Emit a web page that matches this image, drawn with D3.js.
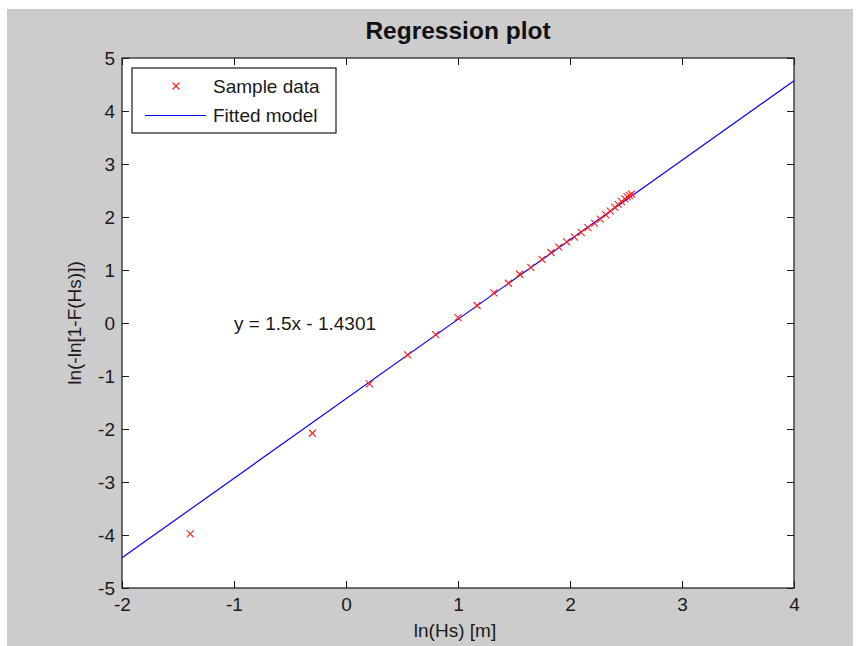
<!DOCTYPE html>
<html>
<head>
<meta charset="utf-8">
<script src="https://cdn.jsdelivr.net/npm/d3@7"></script>
<style>
  body { margin: 0; background: #fff; }
  svg { display: block; font-family: Arial, 'Liberation Sans', sans-serif; }
</style>
</head>
<body>
<div id="chart"></div>
<script>
// sample points: x = ln(Hs), y = ln(-ln[1-F(Hs)])
const sampleX = [-1.39, -0.30, 0.21, 0.55, 0.80, 1.00, 1.17, 1.32, 1.45, 1.55,
  1.65, 1.75, 1.83, 1.90, 1.97, 2.04, 2.10, 2.16, 2.22, 2.27,
  2.32, 2.36, 2.40, 2.43, 2.46, 2.49, 2.51, 2.53, 2.55];
const sampleY = [-3.98, -2.08, -1.15, -0.60, -0.22, 0.10, 0.33, 0.57, 0.75, 0.92,
  1.05, 1.20, 1.33, 1.43, 1.53, 1.62, 1.71, 1.80, 1.88, 1.96,
  2.04, 2.11, 2.18, 2.24, 2.29, 2.34, 2.38, 2.41, 2.43];

const slope = 1.5;
const intercept = -1.4301;

const xTicks = [-2, -1, 0, 1, 2, 3, 4];
const yTicks = [-5, -4, -3, -2, -1, 0, 1, 2, 3, 4, 5];

const size = { width: 860, height: 646 };
const margin = { top: 58, right: 66, bottom: 58, left: 122 };
const ink = '#1a1a1a';

const svg = d3
  .select('#chart')
  .append('svg')
  .attr('width', size.width)
  .attr('height', size.height);

// figure background
svg
  .append('rect')
  .attr('x', 7)
  .attr('y', 9)
  .attr('width', 846)
  .attr('height', size.height - 9)
  .attr('fill', '#cccccc');

const x = d3
  .scaleLinear()
  .domain([-2, 4])
  .range([margin.left, size.width - margin.right]);

const y = d3
  .scaleLinear()
  .domain([-5, 5])
  .range([size.height - margin.bottom, margin.top]);

svg
  .append('rect')
  .attr('x', x(-2))
  .attr('y', y(5))
  .attr('width', x(4) - x(-2))
  .attr('height', y(-5) - y(5))
  .attr('fill', '#fff');

// axes, ticks pointing inwards like matlab
const tickLen = 7;
const plain = (d) => String(d); // keep ascii hyphen for negatives
const styleAxis = (g) => {
  g.select('.domain').remove();
  g.selectAll('line').attr('stroke', ink);
  g.selectAll('text').attr('fill', ink).style('font-size', '19px');
};

svg
  .append('g')
  .attr('transform', `translate(0, ${y(-5)})`)
  .call(d3.axisBottom(x).tickValues(xTicks).tickSize(-tickLen).tickPadding(10).tickFormat(plain))
  .call(styleAxis);

svg
  .append('g')
  .attr('transform', `translate(0, ${y(5)})`)
  .call(d3.axisTop(x).tickValues(xTicks).tickSize(-tickLen).tickFormat(''))
  .call(styleAxis);

svg
  .append('g')
  .attr('transform', `translate(${x(-2)}, 0)`)
  .call(d3.axisLeft(y).tickValues(yTicks).tickSize(-tickLen).tickPadding(7).tickFormat(plain))
  .call(styleAxis);

svg
  .append('g')
  .attr('transform', `translate(${x(4)}, 0)`)
  .call(d3.axisRight(y).tickValues(yTicks).tickSize(-tickLen).tickFormat(''))
  .call(styleAxis);

svg
  .append('rect')
  .attr('x', x(-2))
  .attr('y', y(5))
  .attr('width', x(4) - x(-2))
  .attr('height', y(-5) - y(5))
  .attr('fill', 'none')
  .attr('stroke', ink)
  .attr('stroke-width', 1.2);

// fitted model
const fit = x.domain().map((v) => ({ x: v, y: slope * v + intercept }));
svg
  .append('path')
  .datum(fit)
  .attr('d', d3.line().x((d) => x(d.x)).y((d) => y(d.y)))
  .attr('fill', 'none')
  .attr('stroke', '#0000ff')
  .attr('stroke-width', 1.2);

// sample markers
const cross = (sel, r) =>
  sel
    .append('path')
    .attr('d', `M${-r},${-r}L${r},${r}M${-r},${r}L${r},${-r}`)
    .attr('stroke', '#ff2020')
    .attr('stroke-width', 1.1)
    .attr('fill', 'none');

sampleX.forEach((v, i) => {
  const g = svg.append('g').attr('transform', `translate(${x(v)}, ${y(sampleY[i])})`);
  cross(g, 3.5);
});

// equation
svg
  .append('text')
  .attr('x', x(-1))
  .attr('y', y(0))
  .attr('dy', '0.35em')
  .attr('fill', ink)
  .style('font-size', '19px')
  .text(`y = ${slope}x - ${Math.abs(intercept)}`);

// legend
const legend = svg.append('g').attr('transform', 'translate(132, 68)');
legend
  .append('rect')
  .attr('width', 204)
  .attr('height', 65)
  .attr('fill', '#fff')
  .attr('stroke', ink)
  .attr('stroke-width', 1.2);

cross(legend.append('g').attr('transform', 'translate(44, 18)'), 3.5);
legend
  .append('line')
  .attr('x1', 13)
  .attr('x2', 74)
  .attr('y1', 47.5)
  .attr('y2', 47.5)
  .attr('stroke', '#0000ff')
  .attr('stroke-width', 1.2);

['Sample data', 'Fitted model'].forEach((t, i) => {
  legend
    .append('text')
    .attr('x', 81)
    .attr('y', 18 + i * 29.5)
    .attr('dy', '0.35em')
    .attr('fill', ink)
    .style('font-size', '19px')
    .text(t);
});

// titles
svg
  .append('text')
  .attr('x', (x(-2) + x(4)) / 2)
  .attr('y', 39)
  .attr('text-anchor', 'middle')
  .attr('font-weight', 'bold')
  .attr('fill', '#111')
  .style('font-size', '24.5px')
  .text('Regression plot');

svg
  .append('text')
  .attr('x', 455)
  .attr('y', 637)
  .attr('text-anchor', 'middle')
  .attr('fill', ink)
  .style('font-size', '19px')
  .text('ln(Hs) [m]');

svg
  .append('text')
  .attr('transform', `translate(81, ${y(0)}) rotate(-90)`)
  .attr('text-anchor', 'middle')
  .attr('fill', ink)
  .style('font-size', '19px')
  .text('ln(-ln[1-F(Hs)])');
</script>
</body>
</html>
